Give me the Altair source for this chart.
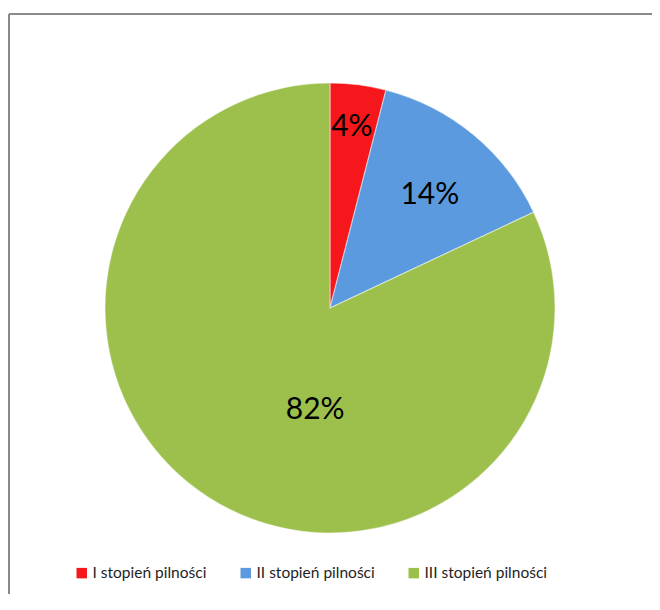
import altair as alt
import pandas as pd

categories = ["I stopień pilności", "II stopień pilności", "III stopień pilności"]
values = [4, 14, 82]
labels = ["4%", "14%", "82%"]
colors = ["#f5171b", "#5b9ade", "#9dc04c"]

df = pd.DataFrame({"category": categories, "value": values, "label": labels,
                   "idx": list(range(len(categories)))})

CX, CY = 322, 300
W, H = 644, 586

base = alt.Chart(df)

arcs = base.mark_arc(radius=225, stroke="#ffffff", strokeOpacity=0.45, strokeWidth=1.2).encode(
    theta=alt.Theta("value:Q", stack=True),
    order=alt.Order("idx:Q"),
    color=alt.Color(
        "category:N",
        scale=alt.Scale(domain=categories, range=colors),
        sort=categories,
        legend=alt.Legend(
            title=None, orient="none", direction="horizontal",
            legendX=66, legendY=557,
            symbolType="square", symbolSize=110, symbolStrokeWidth=0,
            labelFont="Lato", labelFontSize=15.5, labelColor="#1e1e1e",
            labelOffset=3, columnPadding=31, padding=0,
        ),
    ),
    x=alt.value(CX),
    y=alt.value(CY),
)

texts = base.transform_window(
    cum="sum(value)", sort=[alt.SortField("idx")]
).transform_joinaggregate(
    total="sum(value)"
).transform_calculate(
    mid="(datum.cum - datum.value/2 + (datum.idx == 2 ? -6.7 : (datum.idx == 0 ? -0.08 : 0.5))) / datum.total * 2 * PI",
    r="datum.idx == 0 ? 182 : (datum.idx == 1 ? 151 : 103)",
).mark_text(font="Lato", fontSize=30, color="#000000", align="center", baseline="middle").encode(
    theta=alt.Theta("mid:Q", scale=None, stack=None),
    radius=alt.Radius("r:Q", scale=None),
    text="label:N",
    x=alt.value(CX),
    y=alt.value(CY),
)

top_border = base.mark_rule(color="#8a8a8a", strokeWidth=1.6).encode(
    x=alt.value(1), x2=alt.value(W), y=alt.value(6)
)
left_border = base.mark_rule(color="#8a8a8a", strokeWidth=1.6).encode(
    x=alt.value(1), y=alt.value(6), y2=alt.value(H)
)

chart = alt.layer(arcs, texts, top_border, left_border).properties(
    width=W, height=H, padding=0, autosize=alt.AutoSizeParams(type="none"),
    background="#ffffff",
).configure_view(stroke=None)

chart.save("out.html", embed_options={"renderer": "svg", "actions": False})
